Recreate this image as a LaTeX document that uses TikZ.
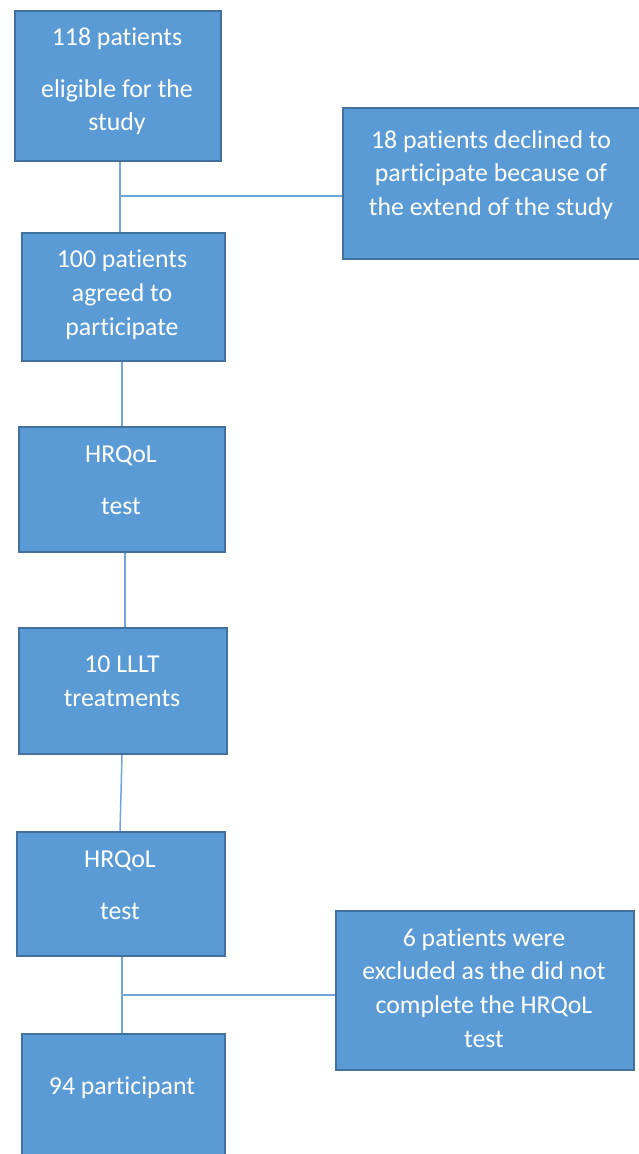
\documentclass[tikz,border=0pt]{standalone}
\usepackage{fontspec}
\setmainfont[Ligatures=NoCommon]{Carlito}
\definecolor{boxfill}{HTML}{5B9BD5}
\definecolor{boxline}{HTML}{41719C}
\definecolor{connline}{HTML}{6FA5DA}
\begin{document}
\begin{tikzpicture}[x=1pt,y=-1pt,
  box/.style={draw=boxline,fill=boxfill,line width=2pt,anchor=north west,inner sep=0pt},
  txt/.style={text=white,font=\fontsize{25.8}{33.5}\selectfont,anchor=base,inner sep=0pt},
  conn/.style={draw=connline,line width=1.5pt}]
\useasboundingbox (0,0) rectangle (639,1154);
\clip (0,0) rectangle (639,1154);
% boxes
\node[box,minimum width=206,minimum height=150] (b1) at (14,10) {};
\node[box,minimum width=300,minimum height=151] (b2) at (342,107) {};
\node[box,minimum width=203,minimum height=128] (b3) at (21,232) {};
\node[box,minimum width=206,minimum height=125] (b4) at (18,426) {};
\node[box,minimum width=208,minimum height=126] (b5) at (18,627) {};
\node[box,minimum width=208,minimum height=124] (b6) at (16,831) {};
\node[box,minimum width=298,minimum height=159] (b7) at (335,910) {};
\node[box,minimum width=203,minimum height=125] (b8) at (21,1033) {};
% texts
\node[txt] (t1a) at (117,45) {118 patients};
\node[txt] (t1b) at (117,97) {eligible for the};
\node[txt] (t1c) at (117,130) {study};
\node[txt] (t2a) at (491,148) {18 patients declined to};
\node[txt] (t2b) at (491,181) {participate because of};
\node[txt] (t2c) at (491,215) {the extend of the study};
\node[txt] (t3a) at (122,267) {100 patients};
\node[txt] (t3b) at (122,301) {agreed to};
\node[txt] (t3c) at (122,335) {participate};
\node[txt] (t4a) at (121,462) {HRQoL};
\node[txt] (t4b) at (121,514) {test};
\node[txt] (t5a) at (122,672) {10 LLLT};
\node[txt] (t5b) at (122,706) {treatments};
\node[txt] (t6a) at (120,867) {HRQoL};
\node[txt] (t6b) at (120,919) {test};
\node[txt] (t7a) at (484,946) {6 patients were};
\node[txt] (t7b) at (484,979) {excluded as the did not};
\node[txt] (t7c) at (484,1013) {complete the HRQoL};
\node[txt] (t7d) at (484,1047) {test};
\node[txt] (t8a) at (122,1094) {94 participant};
% connector helper coordinates
\coordinate (x120) at (120,0);
\coordinate (x122) at (122,0);
\coordinate (x125) at (125,0);
\coordinate (j1) at (120,196);
\coordinate (j2) at (122,995);
% connectors
\draw[conn] (b1.south -| x120) -- (b3.north -| x120);
\draw[conn] (j1) -- (b2.west |- j1);
\draw[conn] (b3.south -| x122) -- (b4.north -| x122);
\draw[conn] (b4.south -| x125) -- (b5.north -| x125);
\draw[conn] (b5.south -| x122) -- (b6.north -| x120);
\draw[conn] (b6.south -| x122) -- (b8.north -| x122);
\draw[conn] (j2) -- (b7.west |- j2);
\end{tikzpicture}
\end{document}
